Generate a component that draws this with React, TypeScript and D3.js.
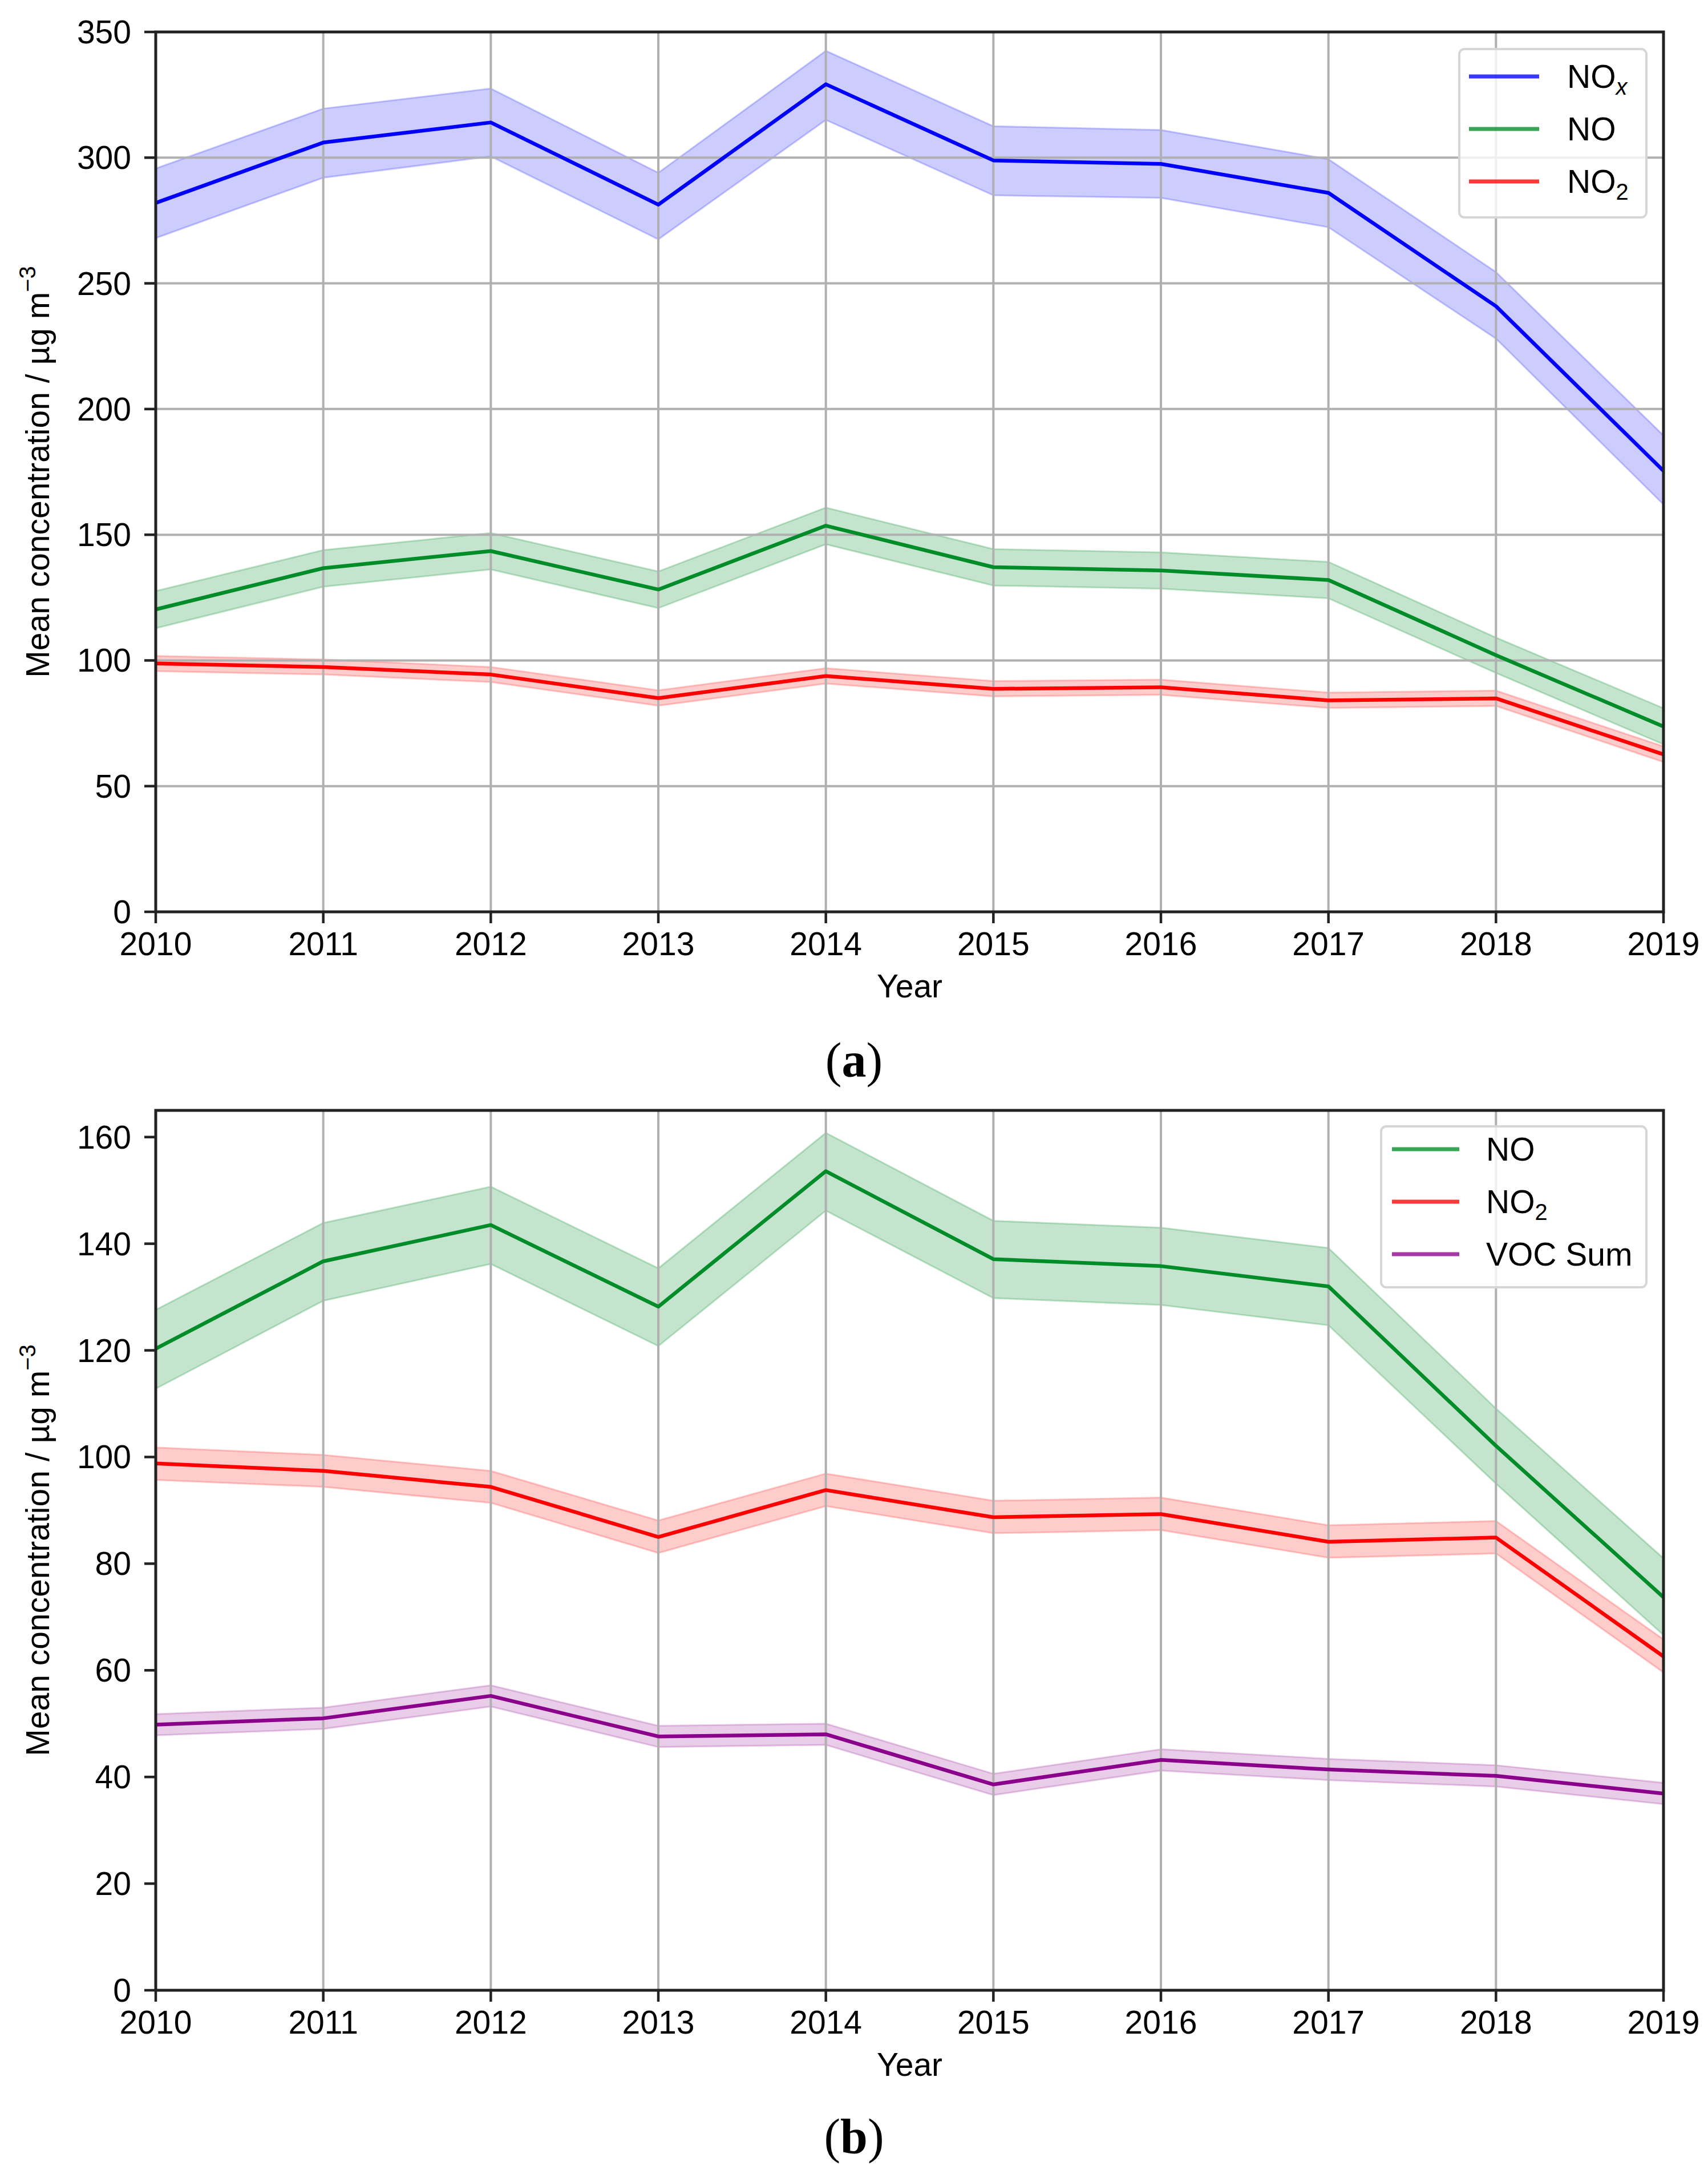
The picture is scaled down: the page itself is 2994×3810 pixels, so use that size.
import React from "react";
import * as d3 from "d3";

const years = [2010, 2011, 2012, 2013, 2014, 2015, 2016, 2017, 2018, 2019];

const noxMean = [282, 306, 314, 281.3, 329.2, 298.9, 297.5, 286, 240.9, 175.4];
const noxLow = [268, 292, 300.5, 267.5, 315, 285, 284, 272.3, 228, 162];
const noxHigh = [295.7, 319.5, 327.5, 294, 342.5, 312.5, 311, 299.4, 254.5, 189.5];

const noMean = [120.3, 136.7, 143.5, 128.2, 153.6, 137.1, 135.8, 132.0, 102.1, 73.7];
const noLow = [112.8, 129.3, 136.2, 120.8, 146.2, 129.8, 128.5, 124.7, 95.0, 66.6];
const noHigh = [127.6, 143.9, 150.7, 135.4, 160.8, 144.3, 143.0, 139.2, 109.1, 81.0];

const no2Mean = [98.8, 97.4, 94.4, 85.0, 93.8, 88.7, 89.3, 84.1, 84.9, 62.6];
const no2Low = [95.7, 94.4, 91.4, 82.0, 90.8, 85.7, 86.3, 81.1, 81.9, 59.6];
const no2High = [101.8, 100.4, 97.4, 88.1, 96.9, 91.8, 92.4, 87.2, 88.0, 65.8];

const vocMean = [49.8, 51.0, 55.2, 47.6, 48.0, 38.6, 43.2, 41.4, 40.2, 36.9];
const vocLow = [47.8, 49.0, 53.2, 45.6, 46.0, 36.6, 41.2, 39.4, 38.2, 34.9];
const vocHigh = [51.8, 53.0, 57.2, 49.6, 50.0, 40.6, 45.2, 43.4, 42.2, 38.9];

const topTicks = [0, 50, 100, 150, 200, 250, 300, 350];
const bottomTicks = [0, 20, 40, 60, 80, 100, 120, 140, 160];

type Series = {
  key: string;
  mean: number[];
  low: number[];
  high: number[];
  line: string;
  alpha: number;
  label: React.ReactNode;
};

const FONT = "'Liberation Sans', Arial, Helvetica, sans-serif";
const FS = 57;

const labelNOx = (
  <>
    NO
    <tspan fontSize={FS * 0.7} fontStyle="italic" dy={12}>x</tspan>
  </>
);
const labelNO = <>NO</>;
const labelNO2 = (
  <>
    NO
    <tspan fontSize={FS * 0.7} dy={12}>2</tspan>
  </>
);
const labelVOC = <>VOC Sum</>;

const C = {
  blue: { line: "#0000ff", alpha: 0.2 },
  green: { line: "#008c28", alpha: 0.23 },
  red: { line: "#ff0000", alpha: 0.2 },
  purple: { line: "#8b008b", alpha: 0.2 },
};

const topSeries: Series[] = [
  { key: "nox", mean: noxMean, low: noxLow, high: noxHigh, ...C.blue, label: labelNOx },
  { key: "no", mean: noMean, low: noLow, high: noHigh, ...C.green, label: labelNO },
  { key: "no2", mean: no2Mean, low: no2Low, high: no2High, ...C.red, label: labelNO2 },
];
const bottomSeries: Series[] = [
  { key: "no", mean: noMean, low: noLow, high: noHigh, ...C.green, label: labelNO },
  { key: "no2", mean: no2Mean, low: no2Low, high: no2High, ...C.red, label: labelNO2 },
  { key: "voc", mean: vocMean, low: vocLow, high: vocHigh, ...C.purple, label: labelVOC },
];

const LEFT = 273;
const RIGHT = 2916;

function Panel(props: {
  top: number;
  bottom: number;
  yMax: number;
  ticks: number[];
  hGrid: boolean;
  series: Series[];
  legend: { x0: number; x1: number; y0: number; y1: number; lineX0: number; lineX1: number; textX: number; rows: number[] };
  tag: string;
  tagBaseline: number;
}) {
  const { top, bottom, yMax, ticks, hGrid, series, legend, tag, tagBaseline } = props;
  const x = d3.scaleLinear().domain([2010, 2019]).range([LEFT, RIGHT]);
  const y = d3.scaleLinear().domain([0, yMax]).range([bottom, top]);
  const area = (s: Series) =>
    d3
      .area<number>()
      .x((_, i) => x(years[i]))
      .y0((_, i) => y(s.low[i]))
      .y1((_, i) => y(s.high[i]))(s.mean) || "";
  const line = (s: Series) =>
    d3
      .line<number>()
      .x((_, i) => x(years[i]))
      .y((d) => y(d))(s.mean) || "";
  const midY = (top + bottom) / 2;
  return (
    <g fontFamily={FONT}>
      {/* bands */}
      {series.map((s) => (
        <path
          key={"a" + s.key}
          d={area(s)}
          fill={s.line}
          fillOpacity={s.alpha}
          stroke={s.line}
          strokeOpacity={s.alpha}
          strokeWidth={3}
        />
      ))}
      {/* grid */}
      {years.map((yr) => (
        <line key={"vg" + yr} x1={x(yr)} x2={x(yr)} y1={top} y2={bottom} stroke="#b0b0b0" strokeWidth={4} />
      ))}
      {hGrid &&
        ticks.map((t) => (
          <line key={"hg" + t} x1={LEFT} x2={RIGHT} y1={y(t)} y2={y(t)} stroke="#b0b0b0" strokeWidth={4} />
        ))}
      {series.map((s) => (
        <path key={"l" + s.key} d={line(s)} fill="none" stroke={s.line} strokeWidth={6.5} strokeLinejoin="round" />
      ))}
      {/* frame */}
      <rect x={LEFT} y={top} width={RIGHT - LEFT} height={bottom - top} fill="none" stroke="#222" strokeWidth={5} />
      {/* y ticks */}
      {ticks.map((t) => (
        <g key={"yt" + t}>
          <line x1={LEFT - 20} x2={LEFT} y1={y(t)} y2={y(t)} stroke="#222" strokeWidth={4.5} />
          <text x={230} y={y(t) + 20} textAnchor="end" fontSize={FS} fill="#000">
            {t}
          </text>
        </g>
      ))}
      {/* x ticks */}
      {years.map((yr) => (
        <g key={"xt" + yr}>
          <line x1={x(yr)} x2={x(yr)} y1={bottom} y2={bottom + 20} stroke="#222" strokeWidth={4.5} />
          <text x={x(yr)} y={bottom + 76} textAnchor="middle" fontSize={FS} fill="#000">
            {yr}
          </text>
        </g>
      ))}
      <text x={(LEFT + RIGHT) / 2} y={bottom + 150} textAnchor="middle" fontSize={FS} fill="#000">
        Year
      </text>
      <text
        transform={`translate(86, ${midY}) rotate(-90)`}
        textAnchor="middle"
        fontSize={FS}
        fill="#000"
      >
        Mean concentration / µg m
        <tspan fontSize={FS * 0.7} dy={-24}>−3</tspan>
      </text>
      {/* legend */}
      <rect
        x={legend.x0}
        y={legend.y0}
        width={legend.x1 - legend.x0}
        height={legend.y1 - legend.y0}
        rx={9}
        fill="#fff"
        fillOpacity={0.8}
        stroke="#d6d6d6"
        strokeWidth={4}
      />
      {series.map((s, i) => (
        <g key={"lg" + s.key}>
          <line
            x1={legend.lineX0}
            x2={legend.lineX1}
            y1={legend.rows[i]}
            y2={legend.rows[i]}
            stroke={s.line}
            strokeOpacity={0.78}
            strokeWidth={7}
          />
          <text x={legend.textX} y={legend.rows[i] + 20} fontSize={FS} fill="#000">
            {s.label}
          </text>
        </g>
      ))}
      <text
        x={1497}
        y={tagBaseline}
        textAnchor="middle"
        fontFamily="'Liberation Serif', 'Times New Roman', serif"
        fontSize={86}
        fill="#000"
      >
        (<tspan fontWeight="bold">{tag}</tspan>)
      </text>
    </g>
  );
}

export default function App() {
  return (
    <svg
      width={2994}
      height={3810}
      viewBox="0 0 2994 3810"
      style={{ position: "absolute", left: 0, top: 0, background: "#fff" }}
    >
      <rect x={0} y={0} width={2994} height={3810} fill="#fff" />
      <Panel
        top={56}
        bottom={1598}
        yMax={350}
        ticks={topTicks}
        hGrid={true}
        series={topSeries}
        legend={{ x0: 2558, x1: 2886, y0: 86, y1: 381, lineX0: 2575, lineX1: 2698, textX: 2747, rows: [134, 226, 318] }}
        tag="a"
        tagBaseline={1887}
      />
      <Panel
        top={1946}
        bottom={3488}
        yMax={165}
        ticks={bottomTicks}
        hGrid={false}
        series={bottomSeries}
        legend={{ x0: 2421, x1: 2886, y0: 1974, y1: 2256, lineX0: 2440, lineX1: 2558, textX: 2605, rows: [2014, 2106, 2198] }}
        tag="b"
        tagBaseline={3773}
      />
    </svg>
  );
}
